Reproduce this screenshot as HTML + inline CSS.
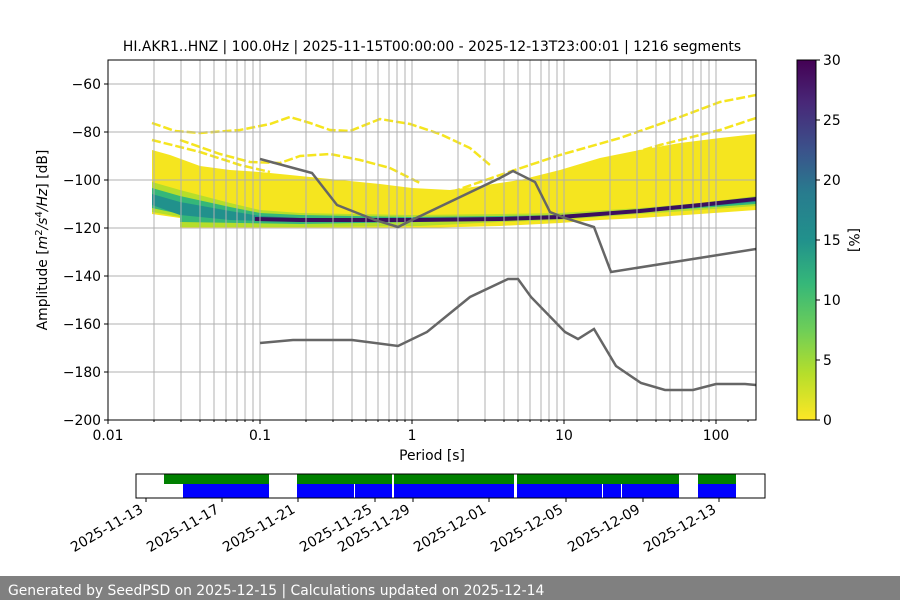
<!DOCTYPE html>
<html><head><meta charset="utf-8"><style>
html,body{margin:0;padding:0;background:#fff;}
svg{display:block;font-family:"DejaVu Sans","Liberation Sans",sans-serif;}
</style></head><body>
<svg width="900" height="600" viewBox="0 0 900 600" xmlns="http://www.w3.org/2000/svg">
<defs>
<linearGradient id="vir" x1="0" y1="1" x2="0" y2="0">
<stop offset="0" stop-color="#fde725"/><stop offset="0.13" stop-color="#b5de2b"/><stop offset="0.25" stop-color="#6ece58"/><stop offset="0.38" stop-color="#35b779"/><stop offset="0.5" stop-color="#21918c"/><stop offset="0.63" stop-color="#287c8e"/><stop offset="0.75" stop-color="#3b528b"/><stop offset="0.88" stop-color="#482878"/><stop offset="1" stop-color="#440154"/>
</linearGradient>
<clipPath id="ax"><rect x="108" y="60" width="648" height="360"/></clipPath>
</defs>
<text x="432" y="51" font-size="13.9" text-anchor="middle">HI.AKR1..HNZ | 100.0Hz | 2025-11-15T00:00:00 - 2025-12-13T23:00:01 | 1216 segments</text>
<g clip-path="url(#ax)">
<polygon fill="#f5e51f" points="152,150 170,155 200,166 230,170 260,172 300,176 340,180 380,184 412,188 450,190 480,186 520,180 560,170 600,158 640,150 680,143 720,138 756,134 756,210 700,214 640,218 600,220 560,223 500,226 420,228 300,228 180,228 180,218 152,214"/>
<polygon fill="#b5de2b" points="152,182 180,190 230,203 260,210 300,213 350,214 412,215 500,214 560,213 640,208 700,203 756,196 756,206 700,210 640,214 560,220 500,222 420,226 300,227 180,227 180,217 152,212"/>
<polygon fill="#35b779" points="152,188 180,196 230,207 260,213 300,215 412,217 500,216 560,215 640,210 700,205 756,198 756,204 700,208 640,212 560,218 500,220 420,222 300,224 180,222 180,214 152,208"/>
<polygon fill="#21918c" points="152,194 180,202 230,211 260,216 300,218 412,218 500,218 560,216 640,211 700,206 756,199 756,202 700,207 640,211 560,217 500,219 420,221 300,222 230,220 180,215 152,205"/>
<polyline fill="none" stroke="#3b0f5f" stroke-width="4" points="255,219 300,220 412,220 500,219 560,217 640,211 700,205 756,199"/>
<g fill="none" stroke="#f5e51f" stroke-width="2.5" stroke-dasharray="9 3">
<polyline points="152,123 175,131 200,133 240,130 270,124 290,117 310,123 330,130 350,131 380,119 410,124 440,134 470,148 490,165"/>
<polyline points="180,140 220,154 250,162 280,163 300,156 330,154 360,160 390,168 420,183"/>
<polyline points="440,196 500,175 560,155 620,138 680,117 720,102 756,95"/>
<polyline points="470,198 540,180 600,163 660,145 720,130 756,118"/>
<polyline points="152,140 200,152 240,165 270,172"/>
</g>
</g>
<g stroke="#b0b0b0" stroke-width="1">
<path d="M154,60V420M181,60V420M200,60V420M214,60V420M226,60V420M237,60V420M245,60V420M253,60V420M260,60V420M306,60V420M333,60V420M352,60V420M366,60V420M378,60V420M389,60V420M397,60V420M405,60V420M412,60V420M458,60V420M485,60V420M504,60V420M518,60V420M530,60V420M541,60V420M549,60V420M557,60V420M564,60V420M610,60V420M637,60V420M656,60V420M670,60V420M682,60V420M693,60V420M701,60V420M709,60V420M716,60V420"/>
<path d="M108,84H756M108,132H756M108,180H756M108,228H756M108,276H756M108,324H756M108,372H756"/>
</g>
<g fill="none" stroke="#666" stroke-width="2.5" clip-path="url(#ax)">
<polyline points="260,159 312,173 337,205 375,220 398,227 412,220 500,178 513,171 535,182 550,212 565,218 594,227 611,272 756,249"/>
<polyline points="260,343 293,340 352,340 398,346 427,332 470,297 508,279 518,279 531,297 565,332 578,339 594,329 616,366 641,383 665,390 693,390 716,384 745,384 756,385"/>
</g>
<rect x="108" y="60" width="648" height="360" fill="none" stroke="#000" stroke-width="1"/>
<g stroke="#000"><path d="M104,84H108M104,132H108M104,180H108M104,228H108M104,276H108M104,324H108M104,372H108M104,420H108"/>
<path d="M108,420V424M260,420V424M412,420V424M564,420V424M716,420V424"/>
<path d="M154,420V422M181,420V422M200,420V422M214,420V422M226,420V422M237,420V422M245,420V422M253,420V422M306,420V422M333,420V422M352,420V422M366,420V422M378,420V422M389,420V422M397,420V422M405,420V422M458,420V422M485,420V422M504,420V422M518,420V422M530,420V422M541,420V422M549,420V422M557,420V422M610,420V422M637,420V422M656,420V422M670,420V422M682,420V422M693,420V422M701,420V422M709,420V422M748,420V422"/></g>
<g font-size="13.9" text-anchor="end">
<text x="101" y="89">−60</text><text x="101" y="137">−80</text><text x="101" y="185">−100</text><text x="101" y="233">−120</text><text x="101" y="281">−140</text><text x="101" y="329">−160</text><text x="101" y="377">−180</text><text x="101" y="425">−200</text>
</g>
<g font-size="13.9" text-anchor="middle">
<text x="108" y="440">0.01</text><text x="260" y="440">0.1</text><text x="412" y="440">1</text><text x="564" y="440">10</text><text x="716" y="440">100</text>
<text x="432" y="460">Period [s]</text>
</g>
<text transform="translate(47,240) rotate(-90)" font-size="13.9" text-anchor="middle">Amplitude [<tspan font-style="italic">m</tspan><tspan font-size="10" dy="-5">2</tspan><tspan dy="5" font-style="italic">/s</tspan><tspan font-size="10" dy="-5">4</tspan><tspan dy="5" font-style="italic">/Hz</tspan>] [dB]</text>
<rect x="797" y="60" width="19" height="360" fill="url(#vir)" stroke="#000" stroke-width="1"/>
<g stroke="#000"><path d="M816,60H820M816,120H820M816,180H820M816,240H820M816,300H820M816,360H820M816,420H820"/></g>
<g font-size="13.9"><text x="823" y="65">30</text><text x="823" y="125">25</text><text x="823" y="185">20</text><text x="823" y="245">15</text><text x="823" y="305">10</text><text x="823" y="365">5</text><text x="823" y="425">0</text></g>
<text transform="translate(849,240) rotate(90)" font-size="13.9" text-anchor="middle">[%]</text>
<g fill="#008000"><rect x="164" y="474" width="105" height="10"/><rect x="297" y="474" width="95" height="10"/><rect x="394" y="474" width="120" height="10"/><rect x="517" y="474" width="162" height="10"/><rect x="698" y="474" width="38" height="10"/></g>
<g fill="#0000ff"><rect x="183" y="484" width="86" height="14"/><rect x="297" y="484" width="57" height="14"/><rect x="355" y="484" width="37" height="14"/><rect x="394" y="484" width="120" height="14"/><rect x="517" y="484" width="85" height="14"/><rect x="603" y="484" width="18" height="14"/><rect x="622" y="484" width="57" height="14"/><rect x="698" y="484" width="38" height="14"/></g>
<rect x="136" y="474" width="629" height="24" fill="none" stroke="#000" stroke-width="1"/>
<g stroke="#000"><path d="M146,498V502M222,498V502M298,498V502M375,498V502M413,498V502M489,498V502M566,498V502M643,498V502M719,498V502"/></g>
<g font-size="13.9" text-anchor="end">
<text transform="translate(144,512) rotate(-30)">2025-11-13</text>
<text transform="translate(220,512) rotate(-30)">2025-11-17</text>
<text transform="translate(296,512) rotate(-30)">2025-11-21</text>
<text transform="translate(373,512) rotate(-30)">2025-11-25</text>
<text transform="translate(411,512) rotate(-30)">2025-11-29</text>
<text transform="translate(487,512) rotate(-30)">2025-12-01</text>
<text transform="translate(564,512) rotate(-30)">2025-12-05</text>
<text transform="translate(641,512) rotate(-30)">2025-12-09</text>
<text transform="translate(717,512) rotate(-30)">2025-12-13</text>
</g>
<rect x="0" y="576" width="900" height="24" fill="#808080"/>
<text x="8" y="595" font-size="13.9" fill="#fff">Generated by SeedPSD on 2025-12-15 | Calculations updated on 2025-12-14</text>
</svg>
</body></html>
